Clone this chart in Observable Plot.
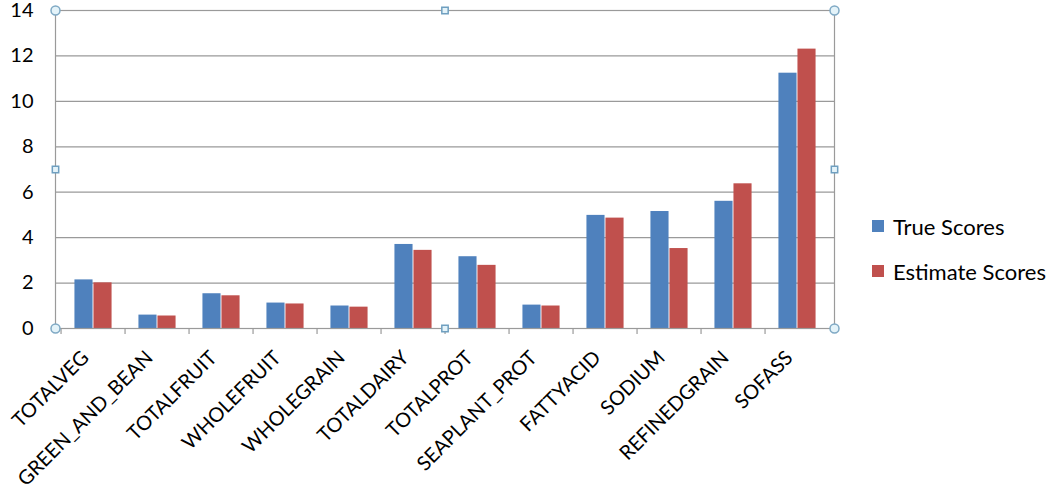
<!DOCTYPE html>
<html>
<head>
<meta charset="utf-8">
<script src="https://cdn.jsdelivr.net/npm/d3@7"></script>
<script src="https://cdn.jsdelivr.net/npm/@observablehq/plot@0.6"></script>
<style>
  html, body { margin: 0; padding: 0; background: #fff; }
  #wrap { position: relative; width: 1050px; height: 493px; font-family: Lato, "Open Sans", sans-serif; }
  #legend { position: absolute; left: 872px; top: 212px; font-size: 22px; color: #000; }
  .item { display: flex; align-items: center; height: 28px; margin-bottom: 17px; }
  .sw { width: 12px; height: 12px; margin-right: 9px; }
</style>
</head>
<body>
<div id="wrap"><div id="chart"></div><div id="legend"></div></div>
<script>
const categories = ["TOTALVEG","GREEN_AND_BEAN","TOTALFRUIT","WHOLEFRUIT","WHOLEGRAIN","TOTALDAIRY","TOTALPROT","SEAPLANT_PROT","FATTYACID","SODIUM","REFINEDGRAIN","SOFASS"];
const trueScores =     [2.14, 0.59, 1.53, 1.12, 0.99, 3.70, 3.16, 1.03, 4.98, 5.15, 5.60, 11.24];
const estimateScores = [2.01, 0.55, 1.44, 1.08, 0.94, 3.44, 2.78, 0.99, 4.86, 3.52, 6.37, 12.30];
const seriesNames = ["True Scores", "Estimate Scores"];
const seriesColors = ["#4F81BD", "#C0504D"];
const yTicks = [0, 2, 4, 6, 8, 10, 12, 14];

const rows = categories.map((c, i) => ({category: c, trueScore: trueScores[i], estimate: estimateScores[i]}));

const W = 1050, H = 493, mL = 55, mR = 216, mT = 10, mB = 165;
const step = (W - mL - mR) / categories.length;
const bw = step * 0.293;
const outer = (step - 2 * bw) / 2;
const gray = "#9a9a9a";

const chart = Plot.plot({
  width: W, height: H,
  marginLeft: mL, marginRight: mR, marginTop: mT, marginBottom: mB,
  style: {fontFamily: "Lato, 'Open Sans', sans-serif", color: "#000", background: "#fff", overflow: "visible"},
  x: {type: "band", domain: categories, padding: 0, axis: null},
  y: {domain: [0, 14], axis: null},
  marks: [
    Plot.ruleY(yTicks, {stroke: gray, strokeWidth: 1.2}),
    Plot.barY(rows, {x: "category", y: "trueScore", fill: seriesColors[0], insetLeft: outer, insetRight: outer + bw}),
    Plot.barY(rows, {x: "category", y: "estimate", fill: seriesColors[1], insetLeft: outer + bw, insetRight: outer}),
    Plot.frame({stroke: gray, strokeWidth: 1.2}),
    Plot.axisY({ticks: yTicks, tickSize: 0, tickPadding: 22, fontSize: 20, label: null, tickFormat: d => String(d)}),
    Plot.axisX({tickSize: 6, dx: -step / 2, label: null, tickFormat: () => "", stroke: gray, strokeWidth: 1.2}),
    Plot.axisX({tickSize: 0, tickRotate: -45, tickPadding: 26, dx: -8, fontSize: 20, label: null}),
    Plot.dot([0], {frameAnchor: "top-left", r: 4.5, fill: "#e4f3f9", stroke: "#7fa9c4"}),
    Plot.dot([0], {frameAnchor: "top-right", r: 4.5, fill: "#e4f3f9", stroke: "#7fa9c4"}),
    Plot.dot([0], {frameAnchor: "bottom-left", r: 4.5, fill: "#e4f3f9", stroke: "#7fa9c4"}),
    Plot.dot([0], {frameAnchor: "bottom-right", r: 4.5, fill: "#e4f3f9", stroke: "#7fa9c4"}),
    Plot.dot([0], {frameAnchor: "top", symbol: "square", r: 3.6, fill: "#e4f3f9", stroke: "#6f9fc0"}),
    Plot.dot([0], {frameAnchor: "bottom", symbol: "square", r: 3.6, fill: "#e4f3f9", stroke: "#6f9fc0"}),
    Plot.dot([0], {frameAnchor: "left", symbol: "square", r: 3.6, fill: "#e4f3f9", stroke: "#6f9fc0"}),
    Plot.dot([0], {frameAnchor: "right", symbol: "square", r: 3.6, fill: "#e4f3f9", stroke: "#6f9fc0"})
  ]
});
document.getElementById("chart").appendChild(chart);

const legend = document.getElementById("legend");
seriesNames.forEach((name, i) => {
  const item = document.createElement("div");
  item.className = "item";
  const sw = document.createElement("div");
  sw.className = "sw";
  sw.style.background = seriesColors[i];
  const label = document.createElement("span");
  label.textContent = name;
  item.appendChild(sw);
  item.appendChild(label);
  legend.appendChild(item);
});
</script>
</body>
</html>
